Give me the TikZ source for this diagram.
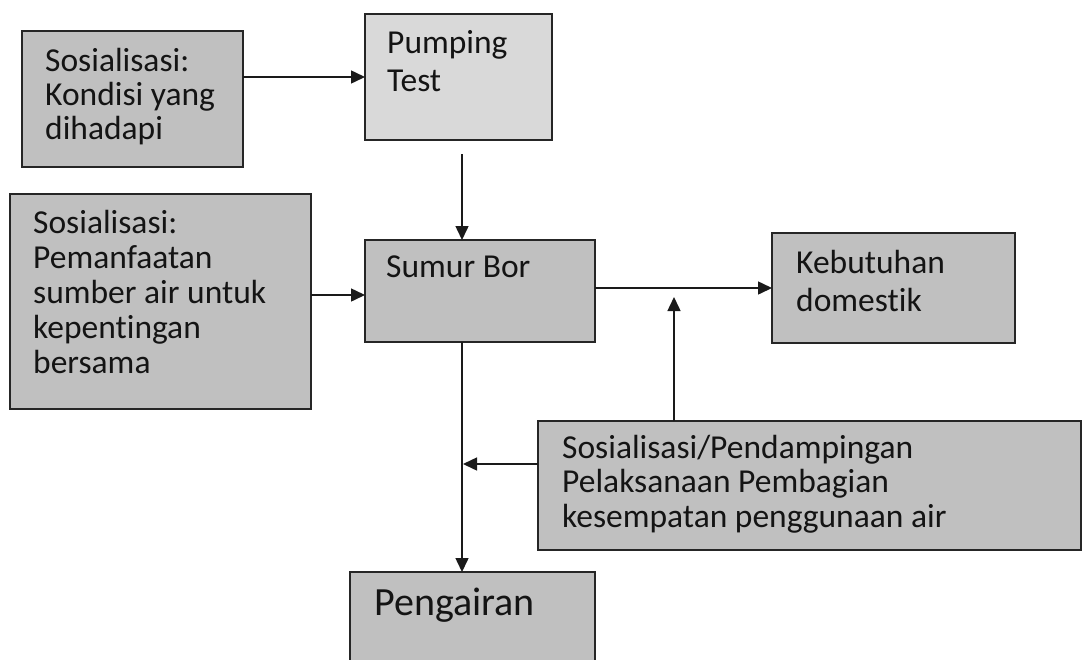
\documentclass[tikz,border=0pt]{standalone}
\usepackage{fontspec}
\setmainfont{Carlito}[Ligatures=NoCommon]
\usetikzlibrary{arrows.meta}
\definecolor{boxgray}{HTML}{C0C0C0}
\definecolor{boxlight}{HTML}{D9D9D9}
\definecolor{edgec}{HTML}{262626}
\definecolor{linec}{HTML}{1A1A1A}
\definecolor{textc}{HTML}{141414}
\newcommand{\boxtext}[3]{\parbox[t]{14cm}{\raggedright\fontsize{#1}{#2}\selectfont #3}}
\begin{document}
\begin{tikzpicture}[x=1pt,y=-1pt,
  box/.style={draw=edgec, line width=1.8pt, fill=boxgray, rectangle, anchor=north west, inner sep=0pt, outer sep=0pt},
  txt/.style={anchor=base west, inner sep=0pt, text=textc},
  arr/.style={draw=linec, line width=1.5pt, -{Triangle[length=14pt,width=13pt]}}]
\clip (0,0) rectangle (1083,659);
\fill[white] (0,0) rectangle (1083,659);
% boxes
\node[box, minimum width=221pt, minimum height=136pt] (b1) at (22,31) {};
\node[box, fill=boxlight, minimum width=187pt, minimum height=126pt] (pt) at (365,14) {};
\node[box, minimum width=301pt, minimum height=215pt] (b3) at (10,194) {};
\node[box, minimum width=230pt, minimum height=102pt] (sb) at (365,240) {};
\node[box, minimum width=243pt, minimum height=110pt] (kb) at (772,233) {};
\node[box, minimum width=543pt, minimum height=129pt] (b6) at (538,421) {};
\node[box, minimum width=245pt, minimum height=128pt] (pg) at (350,572) {};
% texts
\node[txt] (t1) at (45,71) {\boxtext{33.5}{34}{Sosialisasi:\\Kondisi yang\\dihadapi}};
\node[txt] (t2) at (387,53) {\boxtext{33.5}{38}{Pumping\\Test}};
\node[txt] (t3) at (33,233) {\boxtext{33.5}{35}{Sosialisasi:\\Pemanfaatan\\sumber air untuk\\kepentingan\\bersama}};
\node[txt] (t4) at (386,277) {\boxtext{33.5}{35}{Sumur Bor}};
\node[txt] (t5) at (796,273) {\boxtext{33.5}{38}{Kebutuhan\\domestik}};
\node[txt] (t6) at (562,458) {\boxtext{33.5}{34.5}{Sosialisasi/Pendampingan\\Pelaksanaan Pembagian\\kesempatan penggunaan air}};
\node[txt] (t7) at (374,615) {\boxtext{40}{44}{Pengairan}};
% connectors
\coordinate (c1) at (462,154);
\coordinate (c3) at (365,295);
\coordinate (c5) at (674,297);
\coordinate (c7) at (463,464);
\draw[arr] (b1.east |- pt.west) -- (pt.west);
\draw[arr] (c1) -- (c1 |- sb.north);
\draw[arr] (b3.east |- c3) -- (c3);
\draw[arr] (sb.east |- kb.west) -- (kb.west);
\draw[arr] (c5 |- b6.north) -- (c5);
\draw[arr] (c1 |- sb.south) -- (c1 |- pg.north);
\draw[arr] (b6.west |- c7) -- (c7);
\end{tikzpicture}
\end{document}
